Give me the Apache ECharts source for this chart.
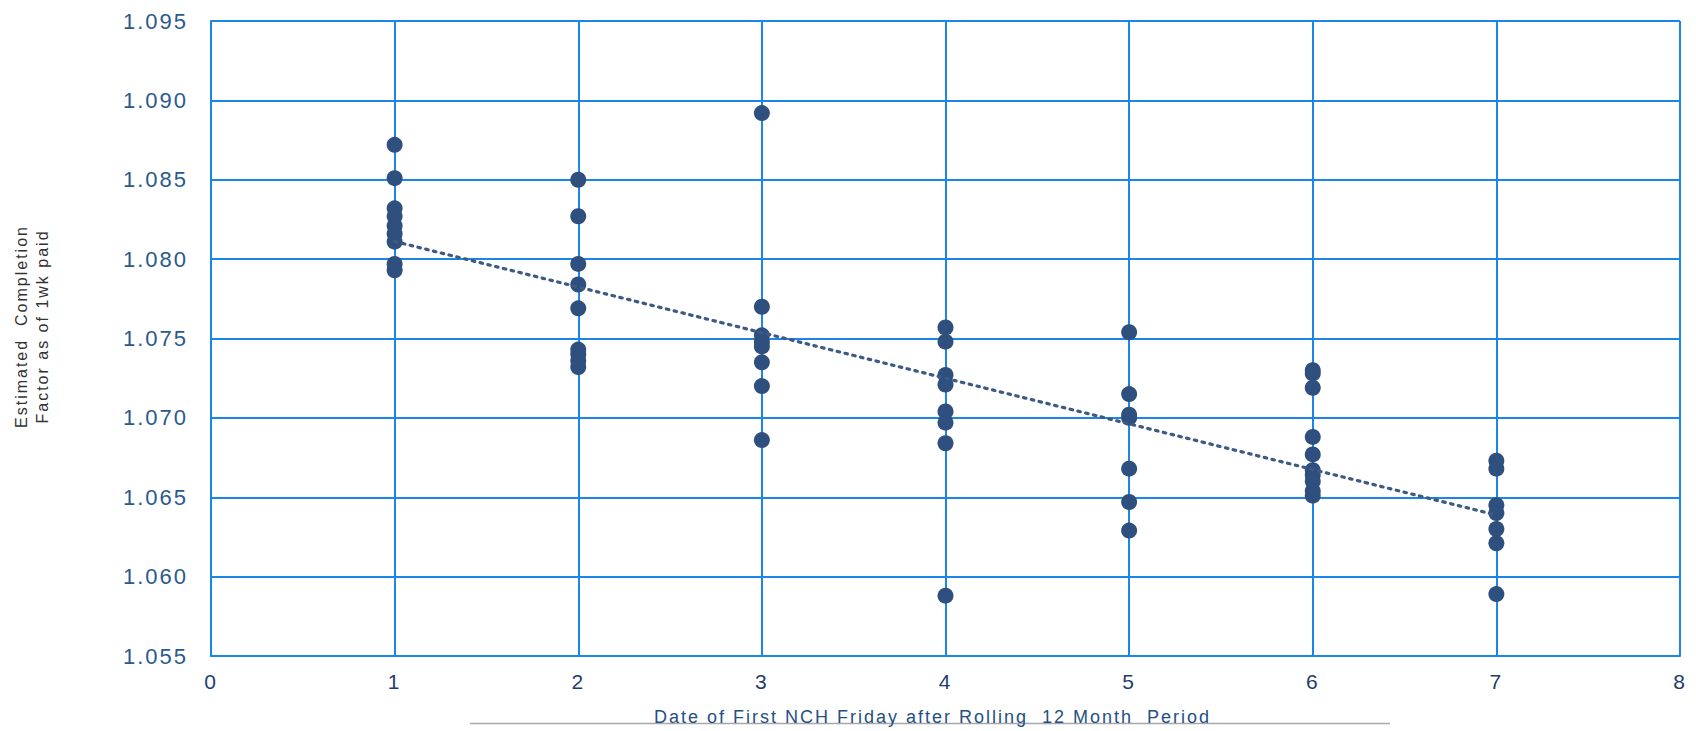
<!DOCTYPE html>
<html>
<head>
<meta charset="utf-8">
<script src="https://cdn.jsdelivr.net/npm/echarts@6/dist/echarts.min.js"></script>
<style>
  html, body { margin: 0; padding: 0; background: #ffffff; }
  #chart { width: 1696px; height: 731px; }
  /* slightly tracked-out lettering for all chart text */
  #chart svg text { letter-spacing: 2px; }
</style>
</head>
<body>
<div id="chart"></div>
<script>
// Estimated completion factor (as of 1 week paid), by period index
const periods = [1, 2, 3, 4, 5, 6, 7];
const period1 = [1.0872, 1.0851, 1.0832, 1.0827, 1.0821, 1.0816, 1.0811, 1.0797, 1.0793];
const period2 = [1.0850, 1.0827, 1.0797, 1.0784, 1.0769, 1.0743, 1.0740, 1.0736, 1.0732];
const period3 = [1.0892, 1.0770, 1.0752, 1.0748, 1.0745, 1.0735, 1.0720, 1.0686];
const period4 = [1.0757, 1.0748, 1.0727, 1.0721, 1.0704, 1.0697, 1.0684, 1.0588];
const period5 = [1.0754, 1.0715, 1.0702, 1.0700, 1.0668, 1.0647, 1.0629];
const period6 = [1.0730, 1.0728, 1.0719, 1.0688, 1.0677, 1.0667, 1.0664, 1.0660, 1.0654, 1.0651];
const period7 = [1.0673, 1.0668, 1.0645, 1.0640, 1.0630, 1.0621, 1.0589];

const yTicks = ['1.055', '1.060', '1.065', '1.070', '1.075', '1.080', '1.085', '1.090', '1.095'];
const xTitle = 'Date of First NCH Friday after Rolling  12 Month  Period';
const yTitle = 'Estimated  Completion\nFactor as of 1wk paid';

const groups = [period1, period2, period3, period4, period5, period6, period7];
const points = [];
groups.forEach((vals, i) => vals.forEach(v => points.push([periods[i], v])));

// Least-squares linear trend across all points
const n = points.length;
const mx = points.reduce((s, p) => s + p[0], 0) / n;
const my = points.reduce((s, p) => s + p[1], 0) / n;
let sxy = 0, sxx = 0;
points.forEach(p => { sxy += (p[0] - mx) * (p[1] - my); sxx += (p[0] - mx) * (p[0] - mx); });
const slope = sxy / sxx;
const icpt = my - slope * mx;
const xFirst = periods[0], xLast = periods[periods.length - 1];
const trend = [[xFirst, icpt + slope * xFirst], [xLast, icpt + slope * xLast]];

const gridBlue = '#1a86ea';
const chart = echarts.init(document.getElementById('chart'), null, { renderer: 'svg' });
chart.setOption({
  backgroundColor: '#ffffff',
  animation: false,
  grid: { left: 211, right: 16, top: 21, bottom: 71, containLabel: false },
  xAxis: {
    type: 'value', min: 0, max: 8, interval: 1,
    axisLine: { show: true, lineStyle: { color: gridBlue, width: 2 } },
    axisTick: { show: false },
    splitLine: { show: true, lineStyle: { color: gridBlue, width: 2 } },
    axisLabel: { color: '#1f3d6b', fontSize: 21, fontFamily: 'Liberation Sans', margin: 15 },
    name: xTitle,
    nameLocation: 'middle',
    nameGap: 52,
    nameTextStyle: { color: '#245086', fontSize: 18, fontFamily: 'Liberation Sans', padding: [0, 26, 0, 0] }
  },
  yAxis: {
    type: 'value', min: 1.055, max: 1.095, interval: 0.005,
    axisLine: { show: true, lineStyle: { color: gridBlue, width: 2 } },
    axisTick: { show: false },
    splitLine: { show: true, lineStyle: { color: gridBlue, width: 2 } },
    axisLabel: {
      color: '#2a5a8c', fontSize: 22, fontFamily: 'Liberation Sans', margin: 23,
      formatter: (v) => yTicks[Math.round((v - 1.055) / 0.005)]
    },
    name: yTitle,
    nameLocation: 'middle',
    nameRotate: 90,
    nameGap: 158,
    nameTextStyle: {
      color: '#333333', fontSize: 16, lineHeight: 21, fontFamily: 'Liberation Sans',
      align: 'center', padding: [0, 0, 0, 24]
    }
  },
  graphic: [{
    type: 'line', z: -1,
    shape: { x1: 470, y1: 723.5, x2: 1390, y2: 723.5 },
    style: { stroke: '#a8a8a8', lineWidth: 1.5 }
  }],
  series: [
    {
      type: 'scatter',
      data: points,
      symbol: 'circle',
      symbolSize: 16,
      itemStyle: { color: '#2f4f7e', opacity: 1 },
      z: 3
    },
    {
      type: 'line',
      data: trend,
      symbol: 'none',
      lineStyle: { color: '#3d5a85', width: 3.2, type: [2.5, 5.5], cap: 'round' },
      z: 4
    }
  ]
});
</script>
</body>
</html>
